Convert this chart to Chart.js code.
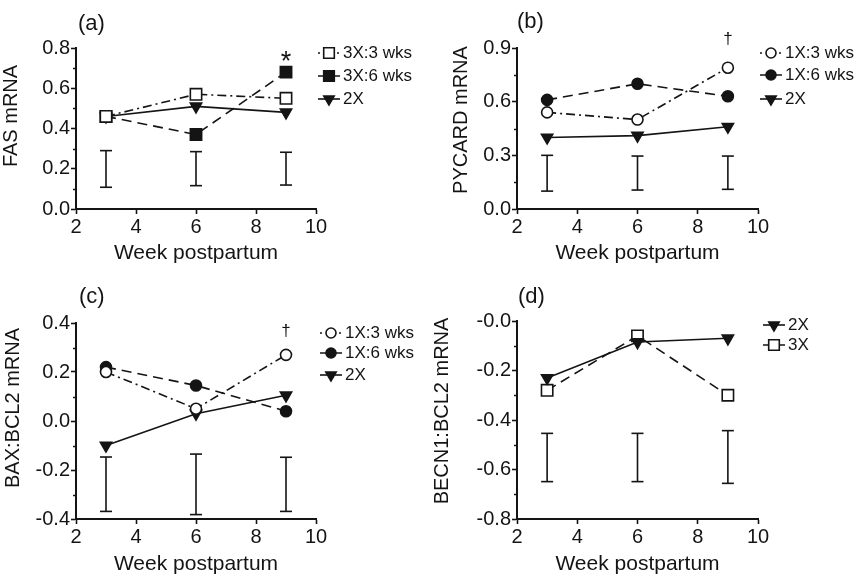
<!DOCTYPE html>
<html>
<head>
<meta charset="utf-8">
<title>mRNA by week postpartum</title>
<script src="https://cdn.jsdelivr.net/npm/chart.js@4.4.1/dist/chart.umd.min.js"></script>
<style>
  body { margin: 0; background: #fff; }
  canvas { position: absolute; }
</style>
</head>
<body>
<canvas id="chartA" width="428" height="280" style="left:0;top:0"></canvas>
<canvas id="chartB" width="428" height="280" style="left:428px;top:0"></canvas>
<canvas id="chartC" width="428" height="296" style="left:0;top:280px"></canvas>
<canvas id="chartD" width="428" height="296" style="left:428px;top:280px"></canvas>
<script>
const weeks = [3, 6, 9];

// (a) FAS mRNA
const fas3x3wks = [0.46, 0.57, 0.55];
const fas3x6wks = [0.46, 0.37, 0.68];
const fas2x = [0.46, 0.51, 0.48];
const fasSemTop = [0.29, 0.285, 0.282];
const fasSemBottom = [0.108, 0.116, 0.119];

// (b) PYCARD mRNA
const pyc1x3wks = [0.54, 0.50, 0.79];
const pyc1x6wks = [0.61, 0.70, 0.63];
const pyc2x = [0.40, 0.41, 0.46];
const pycSemTop = [0.30, 0.296, 0.296];
const pycSemBottom = [0.10, 0.106, 0.11];

// (c) BAX:BCL2 mRNA
const bax1x3wks = [0.20, 0.05, 0.27];
const bax1x6wks = [0.22, 0.145, 0.04];
const bax2x = [-0.10, 0.03, 0.105];
const baxSemTop = [-0.147, -0.135, -0.148];
const baxSemBottom = [-0.369, -0.382, -0.369];

// (d) BECN1:BCL2 mRNA
const becn2x = [-0.23, -0.085, -0.07];
const becn3x = [-0.28, -0.06, -0.30];
const becnSemTop = [-0.454, -0.454, -0.443];
const becnSemBottom = [-0.649, -0.649, -0.656];

const ink = '#141414';
const family = '"Liberation Sans", Arial, Helvetica, sans-serif';
Chart.defaults.font.family = family;
Chart.defaults.color = ink;

const dashDot = [9, 4, 2, 4];
const dashed = [10, 6];

const toPoints = vals => vals.map((v, i) => ({x: weeks[i], y: v}));

function series(label, vals, marker, filled, dash) {
    const sizes = {rect: 8, circle: 5.5, triangle: 6.5};
    return {
        label: label,
        data: toPoints(vals),
        borderColor: ink,
        borderWidth: 1.6,
        borderDash: dash || [],
        pointStyle: marker,
        pointRotation: marker === 'triangle' ? 180 : 0,
        pointRadius: sizes[marker],
        pointHoverRadius: sizes[marker],
        pointBackgroundColor: filled ? ink : '#fff',
        pointBorderColor: ink,
        pointBorderWidth: 1.6,
        clip: false
    };
}

// pooled SEM bars, one vertical segment per week, broken by a null point
function semBars(top, bottom) {
    const pts = [];
    weeks.forEach((w, i) => {
        pts.push({x: w, y: top[i]}, {x: w, y: bottom[i]}, {x: w, y: null});
    });
    return {
        data: pts,
        borderColor: ink,
        borderWidth: 1.6,
        pointStyle: 'line',
        pointRadius: 6,
        pointHoverRadius: 6,
        pointBorderColor: ink,
        pointBorderWidth: 1.6,
        spanGaps: false,
        clip: false
    };
}

// panel letter, y title, significance marks, minor ticks and the line+marker legend
const panelText = {
    id: 'panelText',
    afterDraw(chart, args, o) {
        const {ctx, chartArea, scales} = chart;
        ctx.save();
        ctx.fillStyle = ink;
        ctx.textBaseline = 'middle';

        ctx.font = '22px ' + family;
        ctx.textAlign = 'left';
        ctx.fillText(o.letter, o.letterX, o.letterY);

        ctx.save();
        ctx.translate(o.titleX, o.titleY);
        ctx.rotate(-Math.PI / 2);
        ctx.font = '20px ' + family;
        ctx.textAlign = 'center';
        ctx.fillText(o.yTitle, 0, 0);
        ctx.restore();

        ctx.textAlign = 'center';
        o.marks.forEach(m => {
            ctx.font = m.size + 'px ' + family;
            ctx.fillText(m.text, scales.x.getPixelForValue(m.x), scales.y.getPixelForValue(m.y));
        });

        // minor ticks halfway between the major y ticks
        const ys = scales.y;
        ctx.strokeStyle = ink;
        ctx.lineWidth = 1.5;
        for (let i = 0; i < ys.ticks.length - 1; i++) {
            const py = Math.round(ys.getPixelForValue((ys.ticks[i].value + ys.ticks[i + 1].value) / 2)) + 0.5;
            ctx.beginPath();
            ctx.moveTo(chartArea.left - 3, py);
            ctx.lineTo(chartArea.left, py);
            ctx.stroke();
        }

        const items = chart.data.datasets.filter(ds => ds.label);
        items.forEach((ds, i) => {
            const y = o.legendY[i];
            const x0 = o.legendX;
            ctx.strokeStyle = ink;
            ctx.lineWidth = ds.borderWidth;
            ctx.setLineDash(ds.borderDash);
            ctx.lineDashOffset = ds.borderDash.length > 2 ? 13 : 0;
            ctx.beginPath();
            ctx.moveTo(x0, y);
            ctx.lineTo(x0 + 22, y);
            ctx.stroke();
            ctx.setLineDash([]);
            ctx.fillStyle = ds.pointBackgroundColor;
            ctx.lineWidth = ds.pointBorderWidth;
            Chart.helpers.drawPoint(ctx, {
                pointStyle: ds.pointStyle,
                rotation: ds.pointRotation,
                radius: ds.pointRadius - 0.5,
                borderWidth: ds.pointBorderWidth
            }, x0 + 11, y);
            ctx.fillStyle = ink;
            ctx.font = '17px ' + family;
            ctx.textAlign = 'left';
            ctx.fillText(ds.label, x0 + 25, y);
        });
        ctx.restore();
    }
};

function makeChart(id, p) {
    const axisGrid = {drawOnChartArea: false, drawTicks: true, tickLength: 5, tickColor: ink, tickWidth: 1.6};
    return new Chart(document.getElementById(id), {
        type: 'line',
        data: {datasets: p.datasets},
        options: {
            responsive: false,
            animation: false,
            events: [],
            layout: {padding: p.padding},
            plugins: {
                legend: {display: false},
                tooltip: {enabled: false},
                panelText: p.text
            },
            scales: {
                x: {
                    type: 'linear',
                    min: 2,
                    max: 10,
                    ticks: {stepSize: 2, padding: 1, font: {size: 20}, color: ink, maxRotation: 0},
                    grid: axisGrid,
                    border: {color: ink, width: 2},
                    title: {display: true, text: 'Week postpartum', font: {size: 21, lineHeight: 1}, color: ink, padding: 0},
                    afterFit: s => { s.height = p.xHeight; }
                },
                y: {
                    min: p.yMin,
                    max: p.yMax,
                    ticks: {
                        stepSize: p.yStep,
                        padding: 1,
                        font: {size: 20},
                        color: ink,
                        callback: v => (Math.abs(v) < 1e-9 ? p.zeroLabel : v.toFixed(1))
                    },
                    grid: axisGrid,
                    border: {color: ink, width: 2},
                    afterFit: s => { s.width = p.yWidth; }
                }
            }
        },
        plugins: [panelText]
    });
}

const chartA = makeChart('chartA', {
    datasets: [
        series('3X:3 wks', fas3x3wks, 'rect', false, dashDot),
        series('3X:6 wks', fas3x6wks, 'rect', true, dashed),
        series('2X', fas2x, 'triangle', true),
        semBars(fasSemTop, fasSemBottom)
    ],
    yMin: 0, yMax: 0.8, yStep: 0.2, zeroLabel: '0.0',
    yWidth: 76, xHeight: 55,
    padding: {left: 0, right: 112, top: 48, bottom: 16},
    text: {
        letter: '(a)', letterX: 78, letterY: 24,
        yTitle: 'FAS mRNA', titleX: 11, titleY: 116,
        marks: [{text: '*', x: 9, y: 0.73, size: 27}],
        legendX: 318, legendY: [53, 76, 99]
    }
});

const chartB = makeChart('chartB', {
    datasets: [
        series('1X:3 wks', pyc1x3wks, 'circle', false, dashDot),
        series('1X:6 wks', pyc1x6wks, 'circle', true, dashed),
        series('2X', pyc2x, 'triangle', true),
        semBars(pycSemTop, pycSemBottom)
    ],
    yMin: 0, yMax: 0.9, yStep: 0.3, zeroLabel: '0.0',
    yWidth: 89, xHeight: 55,
    padding: {left: 0, right: 98, top: 48, bottom: 16},
    text: {
        letter: '(b)', letterX: 89, letterY: 22,
        yTitle: 'PYCARD mRNA', titleX: 33, titleY: 120,
        marks: [{text: '†', x: 9, y: 0.95, size: 17}],
        legendX: 332, legendY: [53, 75, 99]
    }
});

const chartC = makeChart('chartC', {
    datasets: [
        series('1X:3 wks', bax1x3wks, 'circle', false, dashDot),
        series('1X:6 wks', bax1x6wks, 'circle', true, dashed),
        series('2X', bax2x, 'triangle', true),
        semBars(baxSemTop, baxSemBottom)
    ],
    yMin: -0.4, yMax: 0.4, yStep: 0.2, zeroLabel: '0.0',
    yWidth: 76, xHeight: 56,
    padding: {left: 0, right: 112, top: 43, bottom: 1},
    text: {
        letter: '(c)', letterX: 79, letterY: 17,
        yTitle: 'BAX:BCL2 mRNA', titleX: 13, titleY: 128,
        marks: [{text: '†', x: 9, y: 0.367, size: 17}],
        legendX: 320, legendY: [53, 73, 95]
    }
});

const chartD = makeChart('chartD', {
    datasets: [
        series('2X', becn2x, 'triangle', true),
        series('3X', becn3x, 'rect', false, dashed),
        semBars(becnSemTop, becnSemBottom)
    ],
    yMin: -0.8, yMax: 0, yStep: 0.2, zeroLabel: '-0.0',
    yWidth: 89, xHeight: 56,
    padding: {left: 0, right: 98, top: 41, bottom: 1},
    text: {
        letter: '(d)', letterX: 90, letterY: 17,
        yTitle: 'BECN1:BCL2 mRNA', titleX: 14, titleY: 131,
        marks: [],
        legendX: 335, legendY: [45, 65]
    }
});
</script>
</body>
</html>
